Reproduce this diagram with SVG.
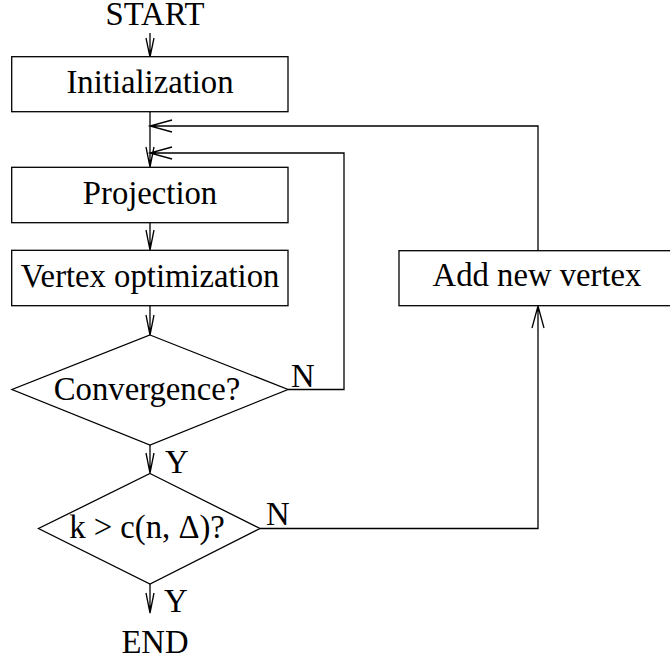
<svg xmlns="http://www.w3.org/2000/svg" width="670" height="661" viewBox="0 0 670 661">
<style>
.box{fill:#fff;stroke:#000;stroke-width:1.3}
.ln{fill:none;stroke:#000;stroke-width:1.3}
.t{font-family:"Liberation Serif","Times New Roman",serif;font-size:32.7px;fill:#000}
.c{text-anchor:middle}
</style>
<g id="connectors">
<path class="ln" d="M150,33 V57 M146,38 L150,57 L154,38"/>
<path class="ln" d="M150,112 V167 M146,147 L150,167 L154,147"/>
<path class="ln" d="M150,223 V250 M146,230 L150,250 L154,230"/>
<path class="ln" d="M150,306 V335 M146,315 L150,335 L154,315"/>
<path class="ln" d="M150,445 V473 M146,453 L150,473 L154,453"/>
<path class="ln" d="M150,584 V613 M146,593 L150,613 L154,593"/>
<path class="ln" d="M288,389.5 H344 V153 H150 M172,147 L150,153 L172,159"/>
<path class="ln" d="M538,251 V126 H150 M172,120 L150,126 L172,132"/>
<path class="ln" d="M260,528.5 H538 V306 M532,328 L538,306 L544,328"/>
</g>
<g id="start"><text class="t c" x="155" y="25">START</text></g>
<g id="init"><rect class="box" x="11.7" y="56.7" width="276.3" height="55"/><text class="t c" x="150" y="93.3">Initialization</text></g>
<g id="projection"><rect class="box" x="11.7" y="167.3" width="276.3" height="55.4"/><text class="t c" x="150" y="204.3">Projection</text></g>
<g id="vertexopt"><rect class="box" x="11.7" y="250.3" width="276.3" height="55.4"/><text class="t c" x="150" y="286.7">Vertex optimization</text></g>
<g id="convergence"><polygon class="box" points="150,335 288,389.5 150,445 12,389.5"/><text class="t c" x="147" y="400">Convergence?</text></g>
<g id="kcheck"><polygon class="box" points="150,473.5 260,528.5 150,584 38.5,528.5"/><text class="t c" x="147" y="538.3">k &gt; c(n, Δ)?</text></g>
<g id="addvertex"><rect class="box" x="399" y="250.7" width="278" height="55"/><text class="t c" x="537" y="285.7">Add new vertex</text></g>
<g id="end"><text class="t c" x="155" y="652.7">END</text></g>
<g id="labels">
<text class="t" x="291" y="387">N</text>
<text class="t" x="266" y="525">N</text>
<text class="t" x="165" y="472.7">Y</text>
<text class="t" x="164" y="611.7">Y</text>
</g>
</svg>
